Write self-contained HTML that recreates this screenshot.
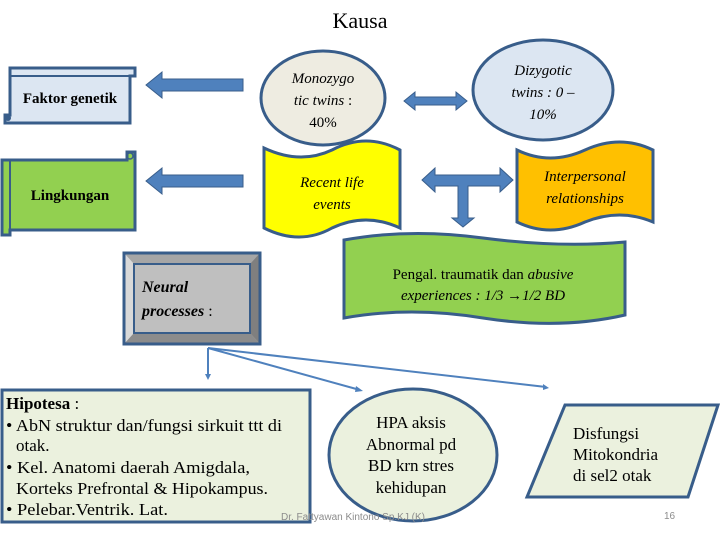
<!DOCTYPE html>
<html><head><meta charset="utf-8"><style>
html,body{margin:0;padding:0;background:#fff;}
svg{display:block;}
text{font-family:"Liberation Serif",serif;}
text.s{font-family:"Liberation Sans",sans-serif;}
</style></head><body>
<svg width="720" height="540" viewBox="0 0 720 540">
<text x="360" y="28" text-anchor="middle" font-size="22">Kausa</text>

<path d="M10,68 H135 V76 H130 V123 H5 V115 H10 Z" fill="#dce6f2" stroke="#385d8a" stroke-width="3"/>
<line x1="10" y1="76" x2="135" y2="76" stroke="#385d8a" stroke-width="2"/>
<circle cx="8" cy="118" r="3" fill="#385d8a"/>
<text x="70" y="103" text-anchor="middle" font-size="15" font-weight="bold">Faktor genetik</text>

<polygon points="146,85 162,72 162,79 243,79 243,91 162,91 162,98" fill="#4f81bd" stroke="#385d8a" stroke-width="1"/>
<polygon points="146,181 162,168 162,175 243,175 243,187 162,187 162,194" fill="#4f81bd" stroke="#385d8a" stroke-width="1"/>

<ellipse cx="323" cy="98" rx="62" ry="47" fill="#eeece1" stroke="#385d8a" stroke-width="3"/>
<text x="323" y="83" text-anchor="middle" font-size="15" font-style="italic">Monozygo</text>
<text x="323" y="105" text-anchor="middle" font-size="15"><tspan font-style="italic">tic twins</tspan> :</text>
<text x="323" y="127" text-anchor="middle" font-size="15">40%</text>

<polygon points="404,101 415,92 415,97 456,97 456,92 467,101 456,110 456,105 415,105 415,110" fill="#4f81bd" stroke="#385d8a"/>

<ellipse cx="543" cy="90" rx="70" ry="50" fill="#dce6f2" stroke="#385d8a" stroke-width="3"/>
<text x="543" y="75" text-anchor="middle" font-size="15" font-style="italic">Dizygotic</text>
<text x="543" y="97" text-anchor="middle" font-size="15" font-style="italic">twins : 0 –</text>
<text x="543" y="119" text-anchor="middle" font-size="15" font-style="italic">10%</text>

<path d="M5,160 H127 V152 H135 V230 H10 V235 H2 V160 Z" fill="#92d050" stroke="#385d8a" stroke-width="3"/>
<line x1="10" y1="160" x2="10" y2="233" stroke="#385d8a" stroke-width="2"/>
<circle cx="130" cy="156" r="3" fill="none" stroke="#385d8a" stroke-width="1.5"/>
<text x="70" y="200" text-anchor="middle" font-size="15" font-weight="bold">Lingkungan</text>

<path d="M264,148 Q300,165 332,150 Q366,132 400,150 V228 Q366,212 332,228 Q300,246 264,228 Z" fill="#ffff00" stroke="#385d8a" stroke-width="3"/>
<text x="332" y="187" text-anchor="middle" font-size="15" font-style="italic">Recent life</text>
<text x="332" y="209" text-anchor="middle" font-size="15" font-style="italic">events</text>

<polygon points="422,180 435,168 435,175 458,175 468,175 500,175 500,168 513,180 500,192 500,186 468,186 468,218 474,218 463,227 452,218 458,218 458,186 435,186 435,192" fill="#4f81bd" stroke="#385d8a"/>

<path d="M517,150 Q550,166 585,150 Q620,134 653,150 V222 Q620,208 585,222 Q550,238 517,222 Z" fill="#ffc000" stroke="#385d8a" stroke-width="3"/>
<text x="585" y="181" text-anchor="middle" font-size="15" font-style="italic">Interpersonal</text>
<text x="585" y="203" text-anchor="middle" font-size="15" font-style="italic">relationships</text>

<path d="M344,240 Q410,228 483,238 Q560,248 625,242 V315 Q560,330 483,318 Q410,306 344,318 Z" fill="#92d050" stroke="#385d8a" stroke-width="3"/>
<text x="483" y="279" text-anchor="middle" font-size="15">Pengal. traumatik dan <tspan font-style="italic">abusive</tspan></text>
<text x="483" y="300" text-anchor="middle" font-size="15" font-style="italic">experiences : 1/3 →1/2 BD</text>

<rect x="124" y="253" width="136" height="91" fill="#bfbfbf" stroke="#385d8a" stroke-width="3"/>
<polygon points="124,253 260,253 250,264 134,264" fill="#a6a6a6"/>
<polygon points="124,253 134,264 134,333 124,344" fill="#d9d9d9"/>
<polygon points="260,253 250,264 250,333 260,344" fill="#7f7f7f"/>
<polygon points="124,344 134,333 250,333 260,344" fill="#8c8c8c"/>
<rect x="124" y="253" width="136" height="91" fill="none" stroke="#385d8a" stroke-width="3"/>
<rect x="134" y="264" width="116" height="69" fill="none" stroke="#385d8a" stroke-width="2"/>
<text x="142" y="292" font-size="16" font-weight="bold" font-style="italic">Neural</text>
<text x="142" y="316" font-size="16"><tspan font-weight="bold" font-style="italic">processes</tspan> :</text>

<g stroke="#4f81bd" stroke-width="2" fill="none">
<line x1="208" y1="348" x2="208" y2="376"/>
<line x1="208" y1="348" x2="360" y2="390"/>
<line x1="208" y1="348" x2="546" y2="387"/>
</g>
<polygon points="205,374 211,374 208,380" fill="#4f81bd"/>
<polygon points="356,386 363,391 355,392" fill="#4f81bd"/>
<polygon points="543,384 549,388 543,390" fill="#4f81bd"/>

<rect x="2" y="390" width="308" height="132" fill="#ebf1de" stroke="#385d8a" stroke-width="3"/>
<g font-size="17">
<text x="6" y="409"><tspan font-weight="bold">Hipotesa</tspan> :</text>
<text x="6" y="431" textLength="276" lengthAdjust="spacingAndGlyphs">• AbN struktur dan/fungsi sirkuit ttt di</text>
<text x="16" y="451">otak.</text>
<text x="6" y="473" textLength="244" lengthAdjust="spacingAndGlyphs">• Kel. Anatomi daerah Amigdala,</text>
<text x="16" y="494" textLength="252" lengthAdjust="spacingAndGlyphs">Korteks Prefrontal &amp; Hipokampus.</text>
<text x="6" y="515" textLength="162" lengthAdjust="spacingAndGlyphs">• Pelebar.Ventrik. Lat.</text>
</g>

<ellipse cx="413" cy="455" rx="84" ry="66" fill="#ebf1de" stroke="#385d8a" stroke-width="3"/>
<g font-size="17" text-anchor="middle">
<text x="411" y="428">HPA aksis</text>
<text x="411" y="450">Abnormal  pd</text>
<text x="411" y="471">BD krn stres</text>
<text x="411" y="493">kehidupan</text>
</g>

<polygon points="565,405 718,405 688,497 527,497" fill="#ebf1de" stroke="#385d8a" stroke-width="3"/>
<g font-size="17">
<text x="573" y="439">Disfungsi</text>
<text x="573" y="460">Mitokondria</text>
<text x="573" y="481">di sel2 otak</text>
</g>

<text class="s" x="281" y="520" font-size="10" fill="#8c8c8c">Dr. Fattyawan Kintono Sp.KJ (K)</text>
<text class="s" x="664" y="519" font-size="10" fill="#8c8c8c">16</text>
</svg>
</body></html>
